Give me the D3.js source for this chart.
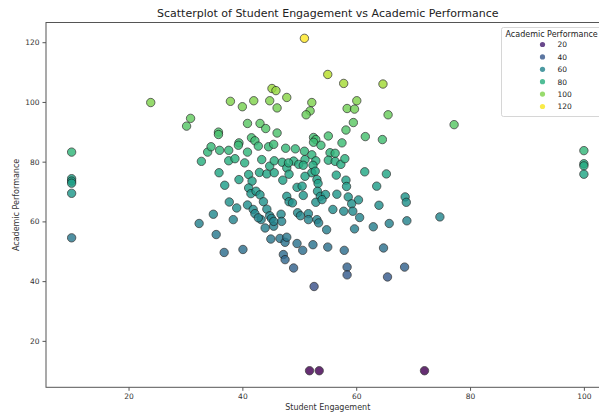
<!DOCTYPE html>
<html>
<head>
<meta charset="utf-8">
<script src="https://cdn.jsdelivr.net/npm/d3@7"></script>
<style>
  body { margin: 0; background: #fff; }
  svg { font-family: "DejaVu Sans", sans-serif; }
</style>
</head>
<body>
<svg></svg>
<script>
// values
const engagement = [
  10.0, 10.0, 10.0, 10.0, 10.0, 10.0, 100.0, 100.0, 100.0, 100.0,
  51.8, 53.5, 72.0, 50.9, 23.9, 77.2, 74.7,
  30.2, 30.9, 37.9, 40.0, 42.0, 44.8, 45.2, 45.9, 46.1, 47.8,
  40.9, 43.1, 44.1, 46.1, 35.8, 35.8, 41.6, 55.0, 57.8, 64.7,
  60.1, 58.4, 59.7, 52.2, 51.9, 51.2, 65.6, 59.5, 58.2, 52.5,
  52.9, 55.1, 61.6, 64.6, 42.2, 39.4,
  32.8, 33.9, 34.5, 36.0, 37.6, 37.6, 38.7, 39.3, 40.9, 40.4,
  42.8, 44.6, 45.5, 47.6, 49.3, 35.9, 36.9, 39.4, 41.1, 41.7,
  43.0, 44.3, 45.6, 44.8, 45.6, 47.0, 47.8, 48.2, 47.1, 49.0,
  41.1, 41.5, 42.4, 43.1, 43.7, 47.8, 48.2, 48.8, 49.6, 37.7,
  39.0, 40.9, 41.9, 42.2, 44.3, 44.8, 43.3, 45.1, 46.8, 46.9,
  49.7, 32.4, 34.9, 35.4, 38.4, 36.8, 40.1, 44.0, 45.5, 45.0,
  46.6, 47.5, 47.8, 47.2, 47.5, 49.0, 49.6, 43.4, 48.1, 49.9, 51.0,
  52.5, 53.8, 57.5, 50.9, 52.2, 55.4, 56.3, 52.9, 55.1, 56.3,
  57.3, 50.7, 52.4, 52.2, 52.8, 56.5, 61.5, 65.3, 51.0, 53.1,
  53.3, 58.2, 58.3, 63.6, 50.5, 50.7, 53.2, 53.7, 54.6, 52.9,
  54.0, 56.6, 58.6, 60.4, 59.2, 64.0, 68.6, 68.8, 55.9, 57.8,
  59.4, 60.6, 50.2, 51.6, 51.6, 53.1, 53.4, 54.8, 59.7, 63.0,
  65.8, 68.9, 52.4, 55.0, 50.6, 57.9, 64.8, 58.4, 58.4, 68.5,
  65.5, 52.6, 58.0, 42.8, 45.5
];
const performance = [
  83.2, 74.3, 73.5, 72.8, 69.4, 54.5, 83.7, 79.3, 78.6, 75.8,
  10.0, 10.0, 10.0, 121.3, 99.8, 92.4, 61.5,
  91.9, 94.5, 100.2, 98.4, 100.4, 100.4, 104.5, 103.8, 98.0, 101.5,
  92.8, 92.8, 91.1, 89.6, 89.9, 89.1, 88.0, 109.2, 106.2, 106.0,
  100.4, 97.8, 97.6, 99.8, 97.0, 95.7, 95.7, 93.1, 90.6, 88.1,
  87.4, 88.6, 88.4, 87.4, 87.0, 86.3,
  80.1, 83.2, 85.0, 83.8, 83.8, 80.3, 81.0, 85.5, 83.2, 79.6,
  85.2, 85.0, 85.8, 84.5, 84.3, 76.3, 72.1, 74.0, 75.7, 73.5,
  76.4, 75.9, 76.3, 78.5, 80.3, 79.8, 77.9, 75.8, 73.8, 80.2,
  71.2, 69.3, 70.1, 68.9, 66.6, 68.4, 66.6, 66.2, 71.4, 66.5,
  64.5, 65.5, 64.0, 62.6, 64.1, 61.9, 60.6, 61.0, 62.4, 60.0,
  62.9, 59.3, 62.4, 55.6, 60.6, 49.6, 50.6, 57.8, 58.4, 54.1,
  54.3, 53.0, 54.7, 48.9, 47.2, 44.4, 52.6, 80.7, 79.6, 79.1, 80.7,
  86.5, 85.5, 86.3, 83.5, 82.3, 83.0, 82.8, 80.3, 80.5, 80.1,
  79.1, 78.8, 78.8, 76.3, 76.8, 75.5, 76.6, 75.9, 75.1, 74.0,
  72.7, 73.8, 71.7, 71.8, 71.8, 68.7, 70.1, 68.4, 69.0, 66.4,
  67.3, 69.1, 68.2, 67.2, 65.9, 65.4, 68.2, 66.4, 64.0, 63.4,
  63.4, 61.3, 61.9, 62.6, 60.6, 60.6, 59.5, 57.2, 57.5, 58.2,
  59.3, 60.2, 52.2, 51.4, 50.3, 50.3, 51.1, 44.7, 42.1, 44.7,
  41.4, 38.2, 81.0, 61.2, 60.0
];
const xTicks = [20, 40, 60, 80, 100];
const yTicks = [20, 40, 60, 80, 100, 120];
const legendValues = [20, 40, 60, 80, 100, 120];

const points = engagement.map((e, i) => ({ x: e, y: performance[i] }));

const svg = d3.select("svg").attr("width", 599).attr("height", 412);
const plot = { left: 46, right: 609.5, top: 22.5, bottom: 387.3 };

const x = d3.scaleLinear().domain([5.5, 104.5]).range([plot.left, plot.right]);
const y = d3.scaleLinear().domain([4.45, 126.6]).range([plot.bottom, plot.top]);
const color = d3.scaleSequential(d3.interpolateViridis)
  .domain([d3.min(performance), d3.max(performance)]);

// frame
svg.append("rect")
  .attr("x", plot.left).attr("y", plot.top)
  .attr("width", plot.right - plot.left).attr("height", plot.bottom - plot.top)
  .attr("fill", "none").attr("stroke", "#555").attr("stroke-width", 1);

const xAxis = svg.append("g")
  .attr("transform", `translate(0,${plot.bottom})`)
  .call(d3.axisBottom(x).tickValues(xTicks).tickSize(3.5).tickPadding(3));
const yAxis = svg.append("g")
  .attr("transform", `translate(${plot.left},0)`)
  .call(d3.axisLeft(y).tickValues(yTicks).tickSize(3.5).tickPadding(3));
[xAxis, yAxis].forEach(a => {
  a.select(".domain").remove();
  a.selectAll(".tick line").attr("stroke", "#555");
  a.selectAll(".tick text").attr("fill", "#333").style("font-size", "7.5px")
    .style("font-family", "DejaVu Sans, sans-serif");
});

// points
svg.append("g").selectAll("circle")
  .data(points)
  .enter().append("circle")
  .attr("cx", d => x(d.x))
  .attr("cy", d => y(d.y))
  .attr("r", 4.2)
  .attr("fill", d => color(d.y))
  .attr("stroke", "#1a1a1a")
  .attr("stroke-width", 0.8)
  .attr("opacity", 0.82);

// title and labels
svg.append("text")
  .attr("x", (plot.left + plot.right) / 2)
  .attr("y", 17)
  .attr("text-anchor", "middle")
  .style("font-size", "11px")
  .attr("fill", "#222")
  .text("Scatterplot of Student Engagement vs Academic Performance");

svg.append("text")
  .attr("x", (plot.left + plot.right) / 2)
  .attr("y", 410)
  .attr("text-anchor", "middle")
  .style("font-size", "8px")
  .attr("fill", "#333")
  .text("Student Engagement");

svg.append("text")
  .attr("transform", `translate(19, ${(plot.top + plot.bottom) / 2}) rotate(-90)`)
  .attr("text-anchor", "middle")
  .style("font-size", "8px")
  .attr("fill", "#333")
  .text("Academic Performance");

// legend
const legend = svg.append("g").attr("transform", "translate(501.5,27.5)");
legend.append("rect")
  .attr("width", 110).attr("height", 89).attr("rx", 2)
  .attr("fill", "#fff").attr("fill-opacity", 0.8)
  .attr("stroke", "#ccc").attr("stroke-width", 0.8);
legend.append("text")
  .attr("x", 4).attr("y", 9)
  .style("font-size", "8px").attr("fill", "#222")
  .text("Academic Performance");
const rows = legend.selectAll(".row")
  .data(legendValues)
  .enter().append("g")
  .attr("class", "row")
  .attr("transform", (d, i) => `translate(0,${17 + i * 12.4})`);
rows.append("circle")
  .attr("cx", 41).attr("cy", 0).attr("r", 2.6)
  .attr("fill", d => color(d)).attr("opacity", 0.82);
rows.append("text")
  .attr("x", 56).attr("y", 2.8)
  .style("font-size", "7.5px").attr("fill", "#222")
  .text(d => d);
</script>
</body>
</html>
